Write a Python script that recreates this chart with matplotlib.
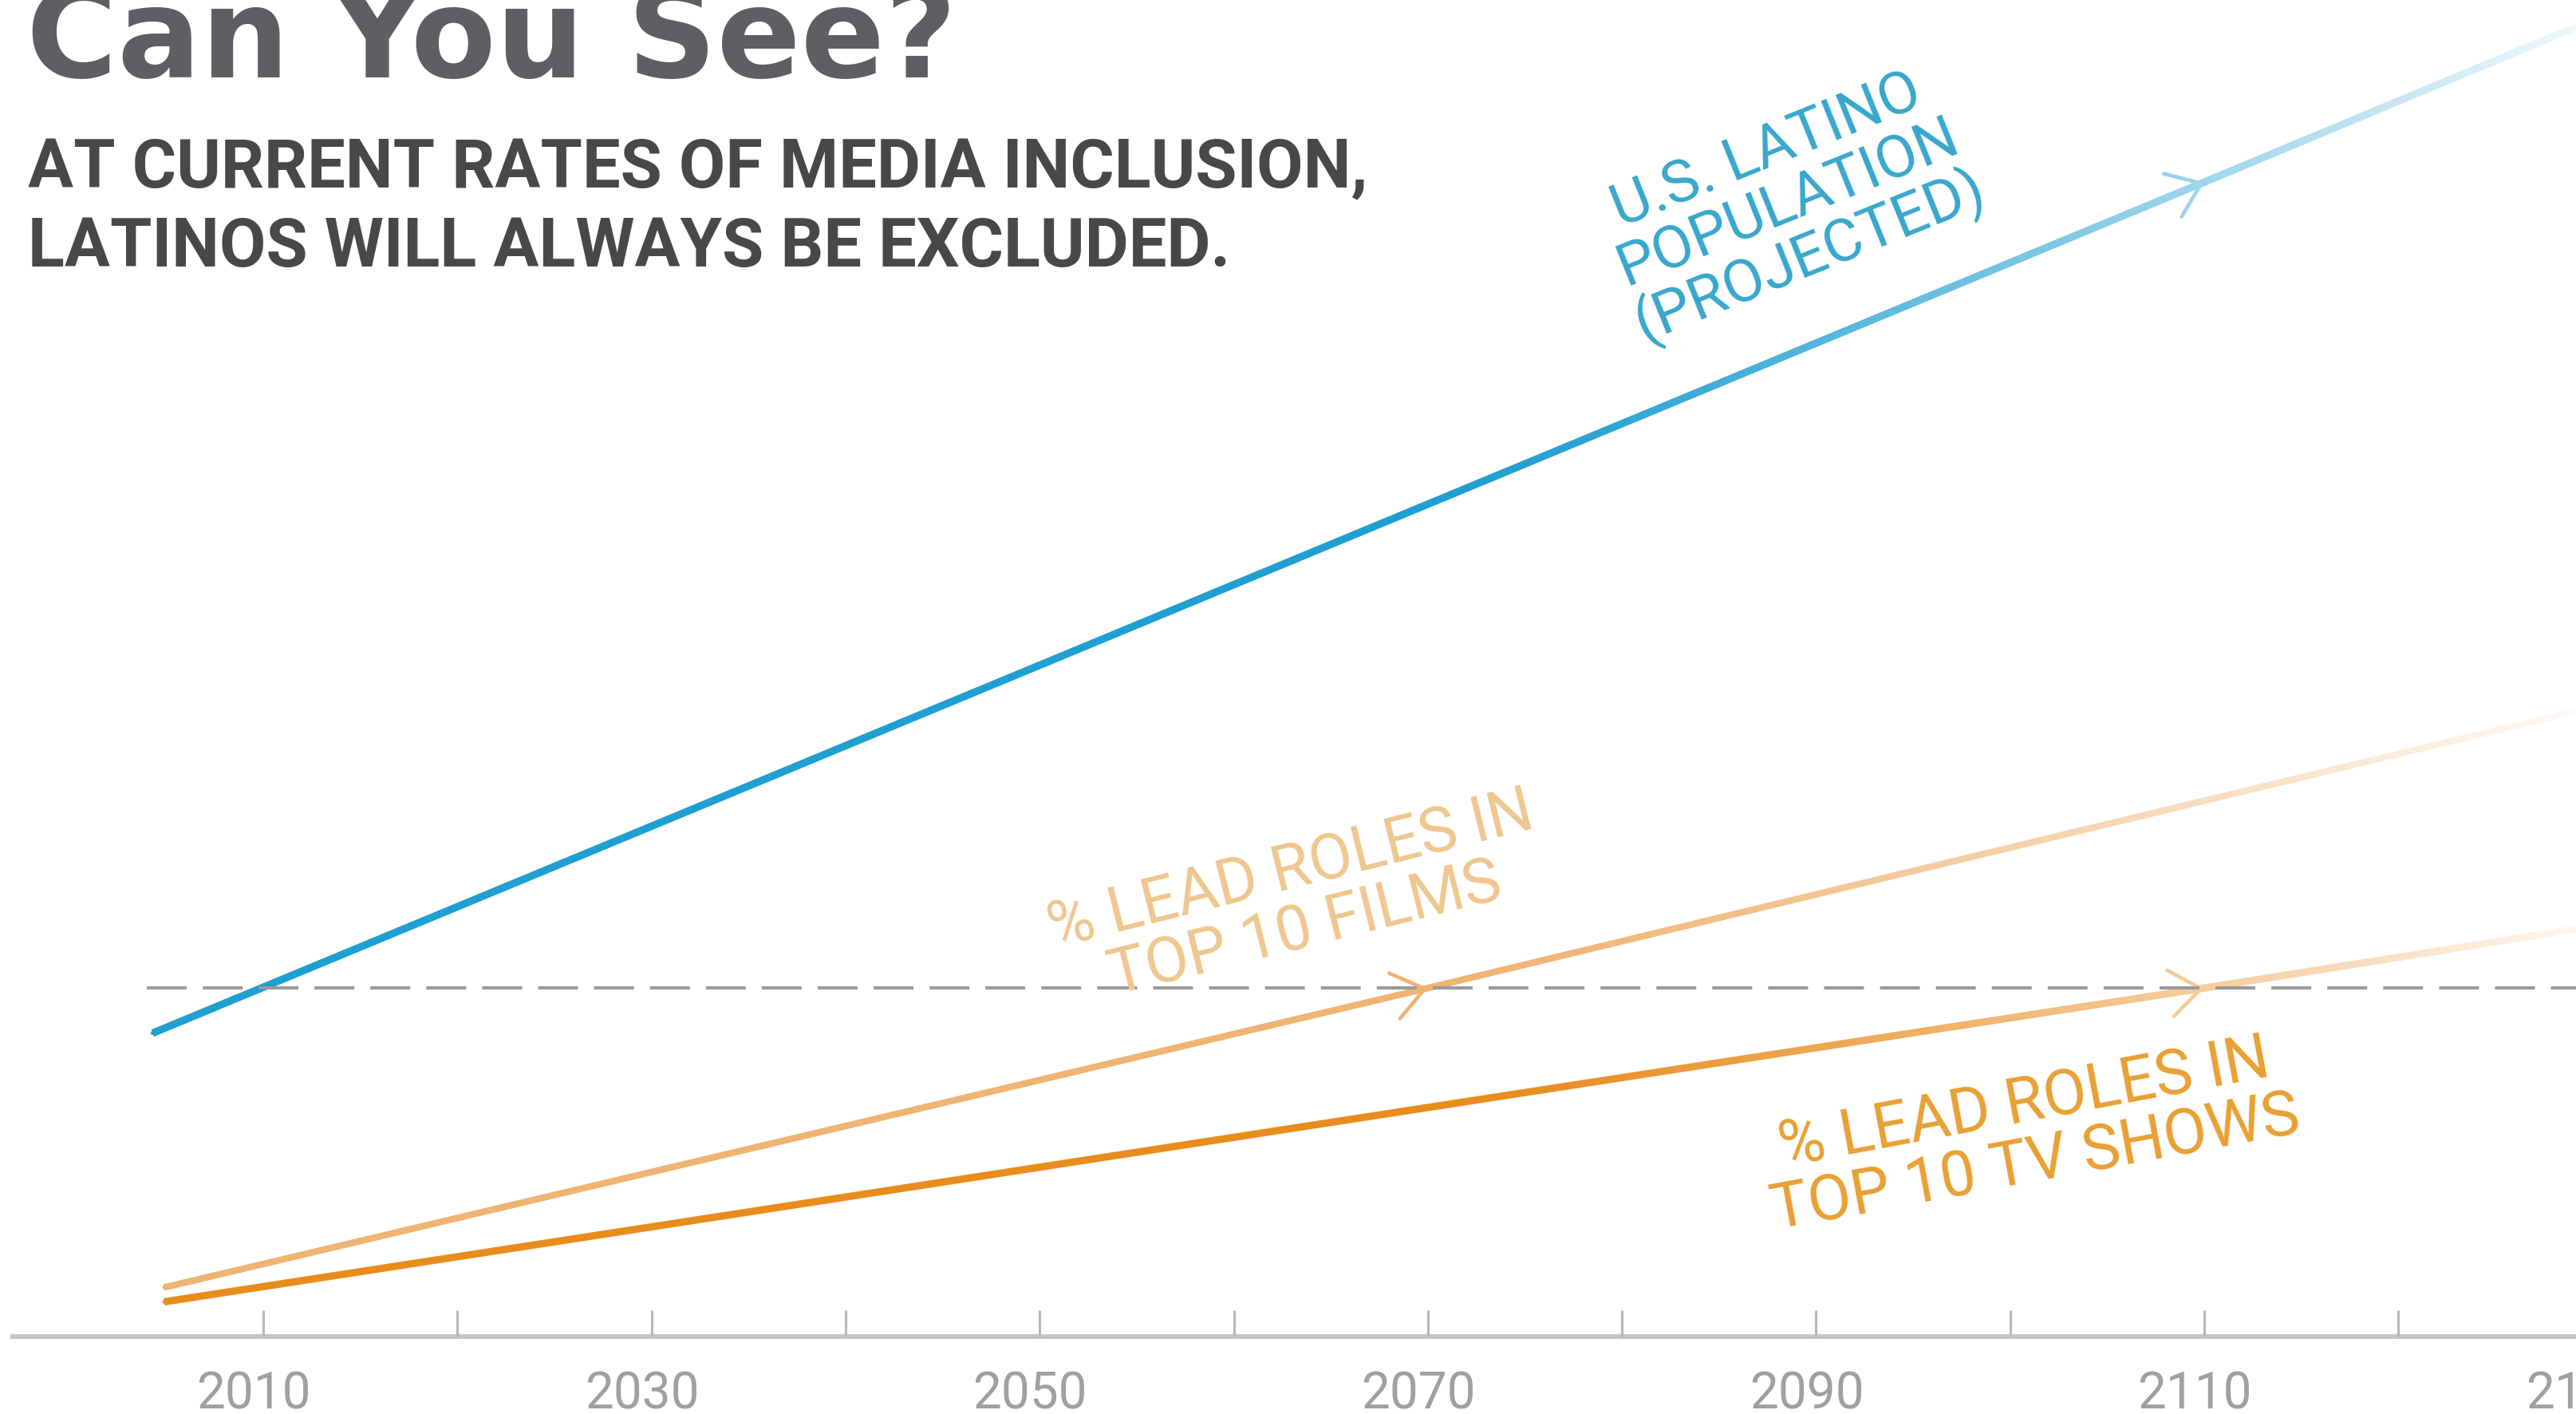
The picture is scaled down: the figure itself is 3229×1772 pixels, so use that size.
import matplotlib
matplotlib.use("Agg")
import matplotlib.pyplot as plt
import numpy as np
from matplotlib.transforms import ScaledTranslation

# ---------------- data ----------------
pop_years = [2004.3, 2110, 2130]
pop_share = [14.8, 56.3, 64.2]          # U.S. Latino population (projected), %
film_years = [2004.9, 2070, 2130]
film_share = [2.4, 17.0, 30.7]          # % lead roles in top 10 films
tv_years = [2004.9, 2110, 2130]
tv_share = [1.7, 17.0, 20.0]            # % lead roles in top 10 TV shows
current_share = 17.0                    # dashed reference level
dash_start = 2004.0

major_years = [2010, 2030, 2050, 2070, 2090, 2110, 2130]
major_labels = ["2010", "2030", "2050", "2070", "2090", "2110", "2130"]
minor_years = [2020, 2040, 2060, 2080, 2100, 2120]

title = "Can You See?"
subtitle_1 = "AT CURRENT RATES OF MEDIA INCLUSION,"
subtitle_2 = "LATINOS WILL ALWAYS BE EXCLUDED."
pop_label = "U.S. LATINO\nPOPULATION\n(PROJECTED)"
film_label = "% LEAD ROLES IN\nTOP 10 FILMS"
tv_label = "% LEAD ROLES IN\nTOP 10 TV SHOWS"

# ---------------- style ----------------
BLUE = "#1f9fd2"
FILM = "#efb472"
TV = "#e88c1c"
SANS = ["Roboto", "DejaVu Sans"]

W, H, DPI = 3230, 1772, 100
fig = plt.figure(figsize=(W / DPI, H / DPI), dpi=DPI)
fig.patch.set_facecolor("white")
ax = fig.add_axes([0, 0, 1, 1])
XL = (1996.44, 2129.19)
YL = (-3.77, 65.18)

# lines
ax.plot(pop_years, pop_share, color=BLUE, lw=6.8, solid_capstyle="butt", zorder=2)
ax.plot(film_years, film_share, color=FILM, lw=6.0, solid_capstyle="butt", zorder=2)
ax.plot(tv_years, tv_share, color=TV, lw=6.6, solid_capstyle="butt", zorder=2)

# chevron arrows at the crossing years
def chevron(xs, ys, color):
    ax.annotate("", xy=(xs[1], ys[1]), xytext=(xs[0], ys[0]),
                arrowprops=dict(arrowstyle="->,head_length=2.8,head_width=2.1",
                                color=color, lw=3.4, shrinkA=0, shrinkB=0,
                                mutation_scale=10),
                zorder=2)

chevron(pop_years, pop_share, BLUE)
chevron(film_years, film_share, FILM)
chevron(tv_years, tv_share, TV)

# fade to white on the right
ramp = np.linspace(0, 1, 600)
img = np.ones((1, ramp.size, 4))
img[..., 3] = 0.94 * ramp ** 1.2
ax.imshow(img, extent=[2072, XL[1], YL[0], YL[1]], aspect="auto",
          interpolation="bilinear", zorder=3)

# dashed reference line
ax.hlines(current_share, dash_start, XL[1], colors="#9a9a9a", lw=2.9,
          linestyles=(0, (12.4, 5.0)), zorder=4)

ax.set_xlim(*XL)
ax.set_ylim(*YL)

# axis styling
for s in ["top", "left", "right"]:
    ax.spines[s].set_visible(False)
ax.spines["bottom"].set_position(("data", 0))
ax.spines["bottom"].set_bounds(1997.1, XL[1])
ax.spines["bottom"].set_color("#c6c6c6")
ax.spines["bottom"].set_linewidth(4.3)
ax.spines["bottom"].set_zorder(5)
ax.set_yticks([])
ax.set_xticks([y for y in major_years if y <= XL[1]])
ax.set_xticks(minor_years, minor=True)
ax.tick_params(axis="x", which="both", direction="in", length=24, width=2.2,
               color="#b8b8b8", labelbottom=False)
ax.xaxis.set_zorder(5)

# tick labels (drawn as text so the one at the edge is cut like the original)
lab_tr = ax.transData + ScaledTranslation(-12 / DPI, -90 / DPI, fig.dpi_scale_trans)
for yr, lab in zip(major_years, major_labels):
    ax.text(yr, 0, lab, transform=lab_tr, ha="center", va="baseline",
            fontsize=46, color="#a0a0a0", family=SANS, clip_on=False, zorder=6)

# series labels
ax.text(2088.6, 55.2, pop_label, ha="center", va="center", rotation=22,
        rotation_mode="anchor", multialignment="center", linespacing=0.98,
        fontsize=54, color="#38a7cd", family=SANS, zorder=6)
ax.text(2063.3, 21.3, film_label, ha="center", va="center", rotation=14,
        rotation_mode="anchor", multialignment="center", linespacing=1.0,
        fontsize=57, color="#f0c68f", family=SANS, zorder=6)
ax.text(2101.0, 9.9, tv_label, ha="center", va="center", rotation=10.5,
        rotation_mode="anchor", multialignment="center", linespacing=1.0,
        fontsize=57, color="#e9a033", family=SANS, zorder=6)

# titles
fig.text(33 / W, 1 - 97 / H, title, ha="left", va="baseline", fontsize=112,
         fontweight="bold", color="#5e5f62", family=["DejaVu Sans"])
fig.text(35 / W, 1 - 235 / H, subtitle_1, ha="left", va="baseline", fontsize=61,
         fontweight="bold", color="#48484a", family=SANS)
fig.text(35 / W, 1 - 334 / H, subtitle_2, ha="left", va="baseline", fontsize=61,
         fontweight="bold", color="#48484a", family=SANS)

fig.savefig("out.png", dpi=DPI, facecolor="white")
